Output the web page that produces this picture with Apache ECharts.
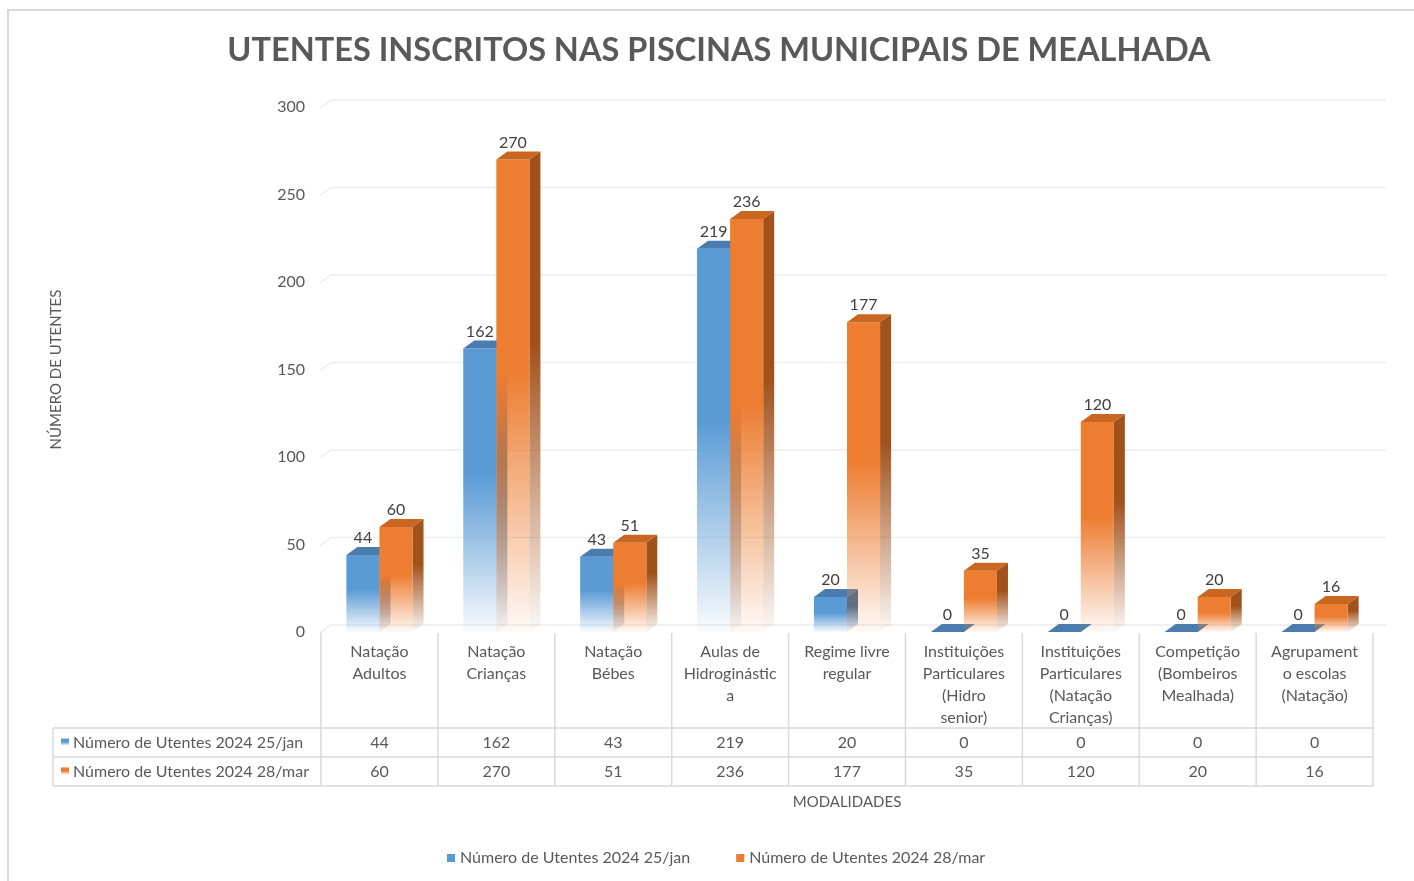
<!DOCTYPE html>
<html>
<head>
<meta charset="utf-8">
<script src="https://cdn.jsdelivr.net/npm/echarts@6/dist/echarts.min.js"></script>
<style>
  html, body { margin: 0; padding: 0; background: #fff; }
  #chart { width: 1414px; height: 881px; }
</style>
</head>
<body>
<div id="chart"></div>
<script>
const categories = [
    'Natação\nAdultos',
    'Natação\nCrianças',
    'Natação\nBébes',
    'Aulas de\nHidroginástic\na',
    'Regime livre\nregular',
    'Instituições\nParticulares\n(Hidro\nsenior)',
    'Instituições\nParticulares\n(Natação\nCrianças)',
    'Competição\n(Bombeiros\nMealhada)',
    'Agrupament\no escolas\n(Natação)'
];
const seriesNames = ['Número de Utentes 2024 25/jan', 'Número de Utentes 2024 28/mar'];
const valuesJan = [44, 162, 43, 219, 20, 0, 0, 0, 0];
const valuesMar = [60, 270, 51, 236, 177, 35, 120, 20, 16];
const yTicks = [0, 50, 100, 150, 200, 250, 300];

const chart = echarts.init(document.getElementById('chart'));
const FONT = 'Lato, "Open Sans", sans-serif';
const TEXT = '#595959';
const LINE = '#D9D9D9';
const DX = 11, DY = 8; // depth of the 3d columns

const faces = [
    { front: '#5B9BD5', top: '#4A7DAE', side: '#3C6A98' },
    { front: '#ED7D31', top: '#C9661F', side: '#A1511B' }
];

function rgba(hex, a) {
    const n = parseInt(hex.slice(1), 16);
    return 'rgba(' + (n >> 16) + ',' + ((n >> 8) & 255) + ',' + (n & 255) + ',' + a + ')';
}

function fade(col, start) {
    return new echarts.graphic.LinearGradient(0, 0, 0, 1, [
        { offset: 0, color: col },
        { offset: start, color: col },
        { offset: 1, color: rgba(col, 0.04) }
    ]);
}

function barRenderer(s) {
    return function (params, api) {
        const i = api.value(0);
        const v = api.value(1);
        const base = api.coord([i, 0]);
        const top = api.coord([i, v]);
        const w = api.size([1, 0])[0] * 0.283;
        const x0 = s === 0 ? base[0] - w : base[0];
        const c = faces[s];
        const yt = top[1], yb = base[1];
        return {
            type: 'group',
            children: [
                {
                    type: 'polygon',
                    shape: { points: [[x0 + w, yt], [x0 + w + DX, yt - DY], [x0 + w + DX, yb - DY], [x0 + w, yb]] },
                    style: { fill: fade(c.side, 0.4) }
                },
                {
                    type: 'rect',
                    shape: { x: x0, y: yt, width: w, height: yb - yt },
                    style: { fill: fade(c.front, 0.45) }
                },
                {
                    type: 'polygon',
                    shape: { points: [[x0, yt], [x0 + DX, yt - DY], [x0 + w + DX, yt - DY], [x0 + w, yt]] },
                    style: { fill: c.top }
                },
                {
                    type: 'text',
                    z2: 10,
                    style: {
                        text: String(v), x: x0 + w / 2, y: yt - DY - 9,
                        align: 'center', verticalAlign: 'middle',
                        font: '16px ' + FONT, fill: '#404040'
                    }
                }
            ]
        };
    };
}

function gridRenderer(params, api) {
    const y = api.coord([0, api.value(1)])[1];
    const cs = params.coordSys;
    return {
        type: 'polyline',
        shape: { points: [[cs.x - 1, y + 1], [cs.x + DX - 1, y - DY + 1], [cs.x + cs.width + 13, y - DY + 1]] },
        style: { stroke: '#EDEDED', lineWidth: 1.5, fill: null }
    };
}

option = {
    animation: false,
    color: ['#5B9BD5', '#ED7D31'],
    textStyle: { fontFamily: FONT },
    title: {
        text: 'UTENTES INSCRITOS NAS PISCINAS MUNICIPAIS DE MEALHADA',
        left: 714,
        top: 29,
        textAlign: 'center',
        textStyle: { fontSize: 32.5, fontWeight: 'bold', color: TEXT, fontFamily: FONT }
    },
    legend: {
        left: 442,
        top: 845,
        itemWidth: 8,
        itemHeight: 8,
        itemGap: 46,
        icon: 'rect',
        textStyle: { fontSize: 16, color: TEXT, fontFamily: FONT },
        data: seriesNames
    },
    grid: { left: 321, right: 41, top: 107, bottom: 249 },
    xAxis: {
        type: 'category',
        data: categories,
        name: 'MODALIDADES',
        nameLocation: 'middle',
        nameGap: 163,
        nameTextStyle: { fontSize: 15, color: TEXT },
        axisLine: { show: false },
        axisTick: { show: false },
        axisLabel: { margin: 9, fontSize: 16, lineHeight: 22, color: TEXT, interval: 0, verticalAlign: 'top' }
    },
    yAxis: {
        type: 'value',
        min: 0,
        max: 300,
        interval: 50,
        name: 'NÚMERO DE UTENTES',
        nameLocation: 'middle',
        nameRotate: 90,
        nameGap: 257,
        nameTextStyle: { fontSize: 15, color: TEXT },
        axisLine: { show: false },
        axisTick: { show: false },
        splitLine: { show: false },
        axisLabel: { margin: 16, fontSize: 16, color: TEXT }
    },
    series: [
        {
            type: 'custom',
            name: 'grid',
            silent: true,
            renderItem: gridRenderer,
            encode: { x: 0, y: 1 },
            data: yTicks.map(v => [0, v]),
            z: 1
        },
        {
            type: 'custom',
            name: seriesNames[0],
            renderItem: barRenderer(0),
            encode: { x: 0, y: 1 },
            itemStyle: { color: '#5B9BD5' },
            data: valuesJan.map((v, i) => [i, v]),
            z: 2
        },
        {
            type: 'custom',
            name: seriesNames[1],
            renderItem: barRenderer(1),
            encode: { x: 0, y: 1 },
            itemStyle: { color: '#ED7D31' },
            data: valuesMar.map((v, i) => [i, v]),
            z: 3
        }
    ]
};

chart.setOption(option);

// data table under the plot
const c0 = chart.convertToPixel({ xAxisIndex: 0 }, 0);
const colW = chart.convertToPixel({ xAxisIndex: 0 }, 1) - c0;
const tableLeft = c0 - colW / 2;
const tableRight = tableLeft + colW * categories.length;
const yHead = 633, yRow1 = 728, yRow2 = 757, yRow3 = 786;
const rowMid = [(yRow1 + yRow2) / 2, (yRow2 + yRow3) / 2];
const headLeft = 53;
const lineStyle = { stroke: LINE, lineWidth: 1.5 };
const graphic = [];

graphic.push({
    type: 'rect', shape: { x: 8, y: 10, width: 1420, height: 900 },
    style: { fill: null, stroke: LINE, lineWidth: 2 }, silent: true
});
for (let k = 0; k <= categories.length; k++) {
    const x = tableLeft + colW * k;
    graphic.push({ type: 'line', shape: { x1: x, y1: yHead, x2: x, y2: yRow3 }, style: lineStyle });
}
graphic.push({ type: 'line', shape: { x1: headLeft, y1: yRow1, x2: headLeft, y2: yRow3 }, style: lineStyle });
[yRow1, yRow2, yRow3].forEach(function (y) {
    graphic.push({ type: 'line', shape: { x1: headLeft, y1: y, x2: tableRight, y2: y }, style: lineStyle });
});
[valuesJan, valuesMar].forEach(function (vals, r) {
    const y = rowMid[r];
    graphic.push({
        type: 'rect', shape: { x: 61, y: y - 4, width: 8, height: 7 },
        style: { fill: fade(faces[r].front, 0.5) }
    });
    graphic.push({
        type: 'text',
        style: { text: seriesNames[r], x: 73, y: y, verticalAlign: 'middle', font: '16px ' + FONT, fill: TEXT }
    });
    vals.forEach(function (v, i) {
        graphic.push({
            type: 'text',
            style: {
                text: String(v), x: chart.convertToPixel({ xAxisIndex: 0 }, i), y: y,
                align: 'center', verticalAlign: 'middle', font: '16px ' + FONT, fill: TEXT
            }
        });
    });
});

chart.setOption({ graphic: graphic });

window.onresize = function () {
    chart.resize();
};
</script>
</body>
</html>
